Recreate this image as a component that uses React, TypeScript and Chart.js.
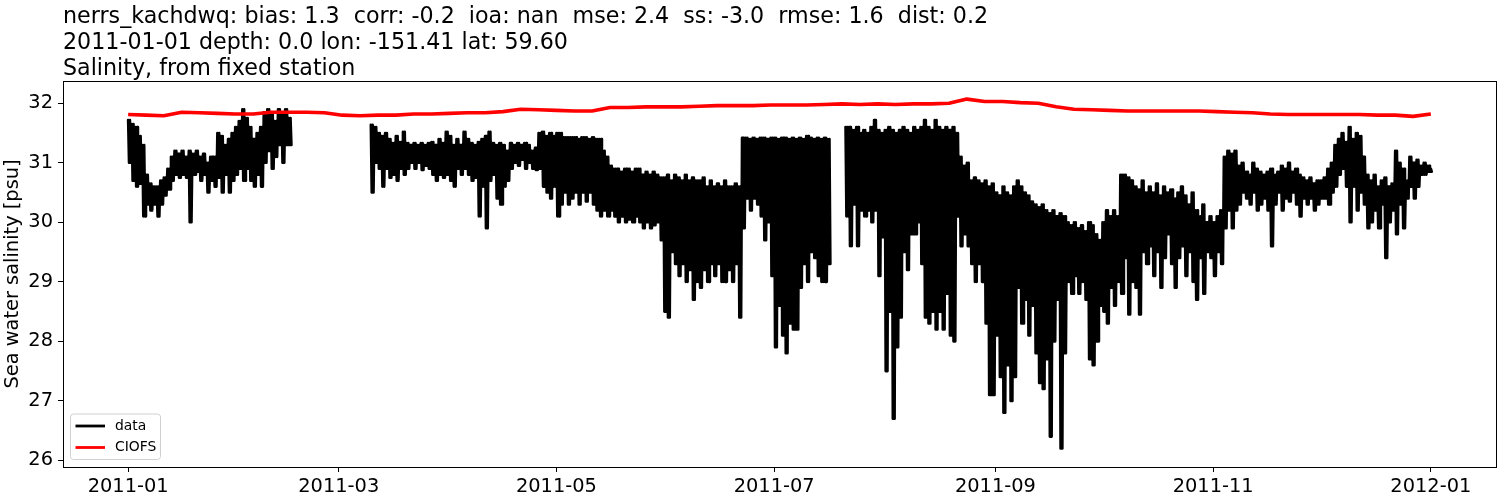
import React, { useEffect, useRef } from "react";
import { Chart, registerables } from "chart.js";

Chart.register(...registerables);

const titleLines = [
  "nerrs_kachdwq: bias: 1.3  corr: -0.2  ioa: nan  mse: 2.4  ss: -3.0  rmse: 1.6  dist: 0.2",
  "2011-01-01 depth: 0.0 lon: -151.41 lat: 59.60",
  "Salinity, from fixed station",
];
const yAxisTitle = "Sea water salinity [psu]";
const legendLabels = ["data", "CIOFS"];

// x positions are days since 2011-01-01
const tickDays = [0, 59, 120, 181, 243, 304, 365];
const tickLabels = ["2011-01", "2011-03", "2011-05", "2011-07", "2011-09", "2011-11", "2012-01"];
const yTicks = [26, 27, 28, 29, 30, 31, 32];

// observed salinity: daily upper / lower envelope (tidal range), day 0..365
const dataHigh = [
  31.72, 31.65, 31.6, 31.45, 31.3, 30.8, 30.65, 30.6, 30.6, 30.7,
  30.75, 30.9, 31.1, 31.2, 31.15, 31.2, 31.1, 31.2, 31.15, 31.2,
  31.1, 31.15, 31.0, 31.1, 31.1, 31.5, 31.45, 31.3, 31.4, 31.5,
  31.6, 31.7, 31.9, 31.75, 31.6, 31.4, 31.5, 31.6, 31.85, 31.9,
  31.85, 31.7, 31.9, 31.8, 31.9, 31.75, null, null, null, null,
  null, null, null, null, null, null, null, null, null, null,
  null, null, null, null, null, null, null, null, 31.64, 31.6,
  31.5, 31.45, 31.5, 31.4, 31.33, 31.45, 31.35, 31.52, 31.33, 31.3,
  31.33, 31.3, 31.33, 31.3, 31.33, 31.35, 31.3, 31.4, 31.33, 31.52,
  31.45, 31.3, 31.4, 31.3, 31.52, 31.4, 31.33, 31.3, 31.35, 31.4,
  31.45, 31.52, 31.33, 31.3, 31.33, 31.3, 31.2, 31.33, 31.3, 31.33,
  31.3, 31.33, 31.3, 31.2, 31.25, 31.5, 31.52, 31.45, 31.5, 31.45,
  31.5, 31.5, 31.43, 31.43, 31.43, 31.43, 31.4, 31.43, 31.43, 31.4,
  31.43, 31.4, 31.4, 31.2, 31.1, 30.95, 30.9, 30.9, 30.85, 30.9,
  30.9, 30.85, 30.9, 30.9, 30.8, 30.85, 30.8, 30.85, 30.8, 30.75,
  30.75, 30.8, 30.7, 30.8, 30.75, 30.7, 30.8, 30.7, 30.75, 30.7,
  30.7, 30.75, 30.6, 30.7, 30.6, 30.65, 30.6, 30.7, 30.6, 30.6,
  30.65, 30.6, 31.42, 31.42, 31.4, 31.42, 31.4, 31.42, 31.42, 31.4,
  31.42, 31.42, 31.4, 31.42, 31.42, 31.4, 31.42, 31.4, 31.42, 31.4,
  31.45, 31.42, 31.4, 31.42, 31.4, 31.42, 31.4, null, null, null,
  null, 31.6, 31.6, 31.55, 31.6, 31.5, 31.55, 31.5, 31.6, 31.72,
  31.55, 31.5, 31.55, 31.6, 31.55, 31.5, 31.55, 31.6, 31.55, 31.5,
  31.6, 31.55, 31.6, 31.72, 31.6, 31.55, 31.72, 31.6, 31.55, 31.6,
  31.55, 31.6, 31.5, 31.1, 30.95, 31.0, 30.7, 30.75, 30.7, 30.65,
  30.7, 30.6, 30.65, 30.5, 30.45, 30.6, 30.5, 30.45, 30.6, 30.7,
  30.6, 30.5, 30.45, 30.35, 30.3, 30.25, 30.3, 30.2, 30.15, 30.2,
  30.1, 30.15, 30.1, 30.0, 29.95, 30.0, 29.9, 29.95, 29.85, 30.0,
  29.95, 29.8, 29.7, 30.0, 30.2, 30.1, 30.2, 30.1, 30.8, 30.8,
  30.75, 30.7, 30.6, 30.55, 30.7, 30.5, 30.6, 30.5, 30.65, 30.45,
  30.6, 30.5, 30.55, 30.4, 30.5, 30.6, 30.45, 30.3, 30.5, 30.2,
  30.1, 30.3, 30.0, 30.1, 30.0, 30.1, 30.2, 31.1, 31.2, 31.15,
  31.2, 30.95, 31.0, 30.85, 30.8, 31.0, 30.9, 30.85, 30.8, 30.85,
  30.9, 30.8, 30.85, 30.95, 30.9, 31.0, 30.85, 30.9, 30.8, 30.75,
  30.7, 30.75, 30.65, 30.7, 30.7, 30.75, 30.9, 31.0, 31.3, 31.4,
  31.5, 31.35, 31.6, 31.4, 31.5, 31.45, 31.1, 30.8, 30.7, 30.8,
  30.6, 30.7, 30.75, 30.6, 30.65, 31.2, 31.0, 30.9, 30.7, 31.1,
  31.0, 31.05, 30.95, 31.0, 30.95, 30.9,
];
const dataLow = [
  31.0, 30.7, 30.6, 30.65, 30.1, 30.3, 30.2, 30.3, 30.1, 30.3,
  30.45, 30.55, 30.7, 30.8, 30.75, 30.8, 30.75, 30.0, 30.8, 30.85,
  30.7, 30.8, 30.5, 30.7, 30.6, 30.75, 30.5, 30.8, 30.5, 30.7,
  30.8, 30.9, 30.7, 30.9, 30.7, 30.6, 30.8, 30.6, 31.0, 31.2,
  30.9, 31.1, 31.3, 31.0, 31.3, 31.3, null, null, null, null,
  null, null, null, null, null, null, null, null, null, null,
  null, null, null, null, null, null, null, null, 30.5, 31.0,
  30.9, 30.6, 30.9, 30.75, 30.8, 30.7, 30.9, 30.8, 30.9, 31.0,
  30.9, 31.0, 30.88, 30.95, 30.9, 30.8, 30.7, 30.8, 30.75, 30.8,
  30.7, 30.6, 30.9, 30.8, 30.9, 30.8, 30.7, 30.75, 30.1, 30.6,
  29.9, 30.7, 30.8, 30.4, 30.3, 30.6, 30.7, 30.9, 31.0, 30.95,
  31.05, 30.9, 31.0, 30.9, 30.88, 30.9, 30.6, 30.5, 30.4, 30.6,
  30.1, 30.3, 30.5, 30.3, 30.4, 30.5, 30.3, 30.5, 30.35, 30.5,
  30.3, 30.2, 30.1, 30.2, 30.1, 30.2, 30.1, 30.0, 30.1, 30.0,
  30.05, 30.0, 30.1, 30.0, 29.9, 30.0, 29.9, 29.95, 30.0, 29.7,
  28.5, 28.4, 29.5, 29.3, 29.1, 29.3, 29.0, 29.2, 28.7, 29.0,
  28.9, 29.2, 29.0, 29.3, 29.1, 29.3, 29.0, 29.0, 29.2, 29.0,
  29.3, 28.4, 29.9, 30.4, 30.2, 30.4, 30.3, 30.1, 29.7, 30.0,
  29.1, 27.9, 28.6, 28.1, 27.8, 28.3, 28.2, 28.2, 28.9, 29.3,
  29.0, 29.5, 29.4, 29.1, 29.0, 29.0, 29.3, null, null, null,
  null, 30.1, 29.6, 30.3, 29.6, 30.2, 30.1, 30.2, 30.0, 30.2,
  29.1, 29.75, 27.5, 28.5, 26.7, 27.9, 28.4, 29.5, 29.2, 29.8,
  29.8, 30.0, 29.3, 28.4, 28.3, 28.5, 28.2, 28.5, 28.2, 28.8,
  28.1, 28.0, 30.1, 29.6, 29.8, 29.6, 29.3, 29.0, 29.3, 29.0,
  28.3, 27.1, 27.1, 28.1, 27.4, 26.8, 27.6, 27.0, 27.4, 28.9,
  28.3, 28.7, 28.1, 28.6, 27.8, 27.3, 27.2, 27.7, 26.4, 28.0,
  28.7, 26.2, 27.8, 29.0, 28.8, 29.1, 28.8, 29.0, 28.7, 27.7,
  27.6, 28.0, 28.6, 28.5, 28.3, 28.9, 28.6, 29.0, 28.8, 29.4,
  28.45, 29.0, 28.9, 28.45, 29.5, 29.3, 29.6, 29.1, 29.5, 28.9,
  29.4, 29.8, 29.3, 28.9, 29.4, 29.6, 29.1, 29.5, 29.0, 28.7,
  29.4, 28.8, 29.5, 29.4, 29.1, 29.5, 29.3, 29.9, 30.2, 29.9,
  30.2, 30.3, 30.5, 30.4, 30.3, 30.5, 30.2, 30.3, 30.4, 30.2,
  29.6, 30.3, 30.5, 30.2, 30.4, 30.35, 30.5, 30.3, 30.1, 30.4,
  30.3, 30.4, 30.2, 30.3, 30.4, 30.4, 30.3, 30.5, 30.6, 30.8,
  30.9, 30.6, 30.0, 30.6, 30.2, 30.5, 30.3, 29.9, 30.0, 30.2,
  29.9, 30.3, 29.4, 30.0, 30.2, 29.8, 30.3, 29.9, 30.4, 30.6,
  30.4, 30.6, 30.8, 30.8, 30.85, 30.85,
];

// CIOFS model salinity, every 5 days (day 0, 5, ..., 365)
const modelValues = [
  31.81, 31.80, 31.79, 31.85, 31.84, 31.83, 31.82, 31.82, 31.85, 31.85,
  31.85, 31.84, 31.80, 31.79, 31.80, 31.80, 31.82, 31.82, 31.83, 31.84,
  31.84, 31.86, 31.90, 31.89, 31.88, 31.87, 31.87, 31.93, 31.93, 31.94,
  31.94, 31.94, 31.95, 31.96, 31.96, 31.96, 31.97, 31.97, 31.97, 31.98,
  31.99, 31.98, 31.99, 31.98, 31.99, 31.99, 32.00, 32.07, 32.03, 32.03,
  32.01, 32.00, 31.94, 31.90, 31.89, 31.88, 31.87, 31.87, 31.87, 31.87,
  31.87, 31.86, 31.85, 31.84, 31.82, 31.81, 31.81, 31.81, 31.81, 31.81,
  31.80, 31.80, 31.78, 31.82,
];
const modelStepDays = 5;

const FONT = '"DejaVu Sans", "Liberation Sans", sans-serif';

export default function App() {
  const canvasRef = useRef<HTMLCanvasElement | null>(null);

  useEffect(() => {
    document.body.style.margin = "0";
    const canvas = canvasRef.current;
    if (!canvas) return;

    // two tidal cycles per day between the day's high and low readings
    const obsPoints: { x: number; y: number | null }[] = [];
    dataHigh.forEach((hi, d) => {
      const lo = dataLow[d];
      if (hi === null || lo === null) {
        obsPoints.push({ x: d, y: null });
      } else {
        obsPoints.push({ x: d, y: hi });
        obsPoints.push({ x: d + 0.25, y: lo });
        if (d < dataHigh.length - 1) {
          obsPoints.push({ x: d + 0.5, y: hi });
          obsPoints.push({ x: d + 0.75, y: lo });
        }
      }
    });
    const modelPoints = modelValues.map((v, i) => ({ x: i * modelStepDays, y: v }));

    const overlay = {
      id: "overlay",
      afterDraw(chart: any) {
        const ctx = chart.ctx as CanvasRenderingContext2D;
        const a = chart.chartArea;
        ctx.save();
        // frame
        ctx.strokeStyle = "#000";
        ctx.lineWidth = 1;
        ctx.strokeRect(Math.round(a.left) + 0.5, Math.round(a.top) + 0.5,
          Math.round(a.right - a.left), Math.round(a.bottom - a.top));
        // titles
        ctx.fillStyle = "#000";
        ctx.font = `22.2px ${FONT}`;
        ctx.textAlign = "left";
        ctx.textBaseline = "alphabetic";
        const baselines = [22.5, 48.5, 74.5];
        titleLines.forEach((t, i) => ctx.fillText(t, a.left, baselines[i]));
        // legend
        const bx = a.left + 7.5, by = a.bottom - 53, bw = 90, bh = 45.5;
        ctx.beginPath();
        if ((ctx as any).roundRect) (ctx as any).roundRect(bx, by, bw, bh, 3);
        else ctx.rect(bx, by, bw, bh);
        ctx.fillStyle = "rgba(255,255,255,0.8)";
        ctx.fill();
        ctx.strokeStyle = "#d0d0d0";
        ctx.lineWidth = 1;
        ctx.stroke();
        const colors = ["#000000", "#ff0000"];
        const rows = [by + 12, by + 33.5];
        ctx.lineWidth = 2.8;
        ctx.font = `13.9px ${FONT}`;
        ctx.textBaseline = "middle";
        legendLabels.forEach((lab, i) => {
          ctx.strokeStyle = colors[i];
          ctx.beginPath();
          ctx.moveTo(bx + 5, rows[i]);
          ctx.lineTo(bx + 34.5, rows[i]);
          ctx.stroke();
          ctx.fillStyle = "#000";
          ctx.fillText(lab, bx + 44.5, rows[i]);
        });
        ctx.restore();
      },
    };

    const chart = new Chart(canvas, {
      type: "line",
      data: {
        datasets: [
          {
            label: legendLabels[1],
            data: modelPoints,
            borderColor: "#ff0000",
            borderWidth: 3.6,
            pointRadius: 0,
            tension: 0,
            borderJoinStyle: "round",
          },
          {
            label: legendLabels[0],
            data: obsPoints,
            borderColor: "#000000",
            borderWidth: 2.6,
            pointRadius: 0,
            tension: 0,
            spanGaps: false,
            borderJoinStyle: "round",
            borderCapStyle: "round",
          },
        ],
      },
      options: {
        responsive: false,
        devicePixelRatio: 1,
        animation: false,
        events: [],
        layout: { padding: { top: 81, right: 4, left: 0, bottom: 0 } },
        plugins: {
          legend: { display: false },
          title: { display: false },
          tooltip: { enabled: false },
        },
        scales: {
          x: {
            type: "linear",
            min: -18.25,
            max: 383.25,
            afterFit: (s: any) => { s.height = 33; },
            afterBuildTicks: (s: any) => { s.ticks = tickDays.map((v) => ({ value: v })); },
            grid: { display: true, drawOnChartArea: false, drawTicks: true, tickLength: 5, color: "#000" },
            border: { display: false },
            ticks: {
              color: "#000",
              font: { family: FONT, size: 19.4 },
              padding: 3,
              maxRotation: 0,
              autoSkip: false,
              callback: (v: any) => {
                const i = tickDays.indexOf(Number(v));
                return i >= 0 ? tickLabels[i] : "";
              },
            },
          },
          y: {
            type: "linear",
            min: 25.889,
            max: 32.374,
            afterFit: (s: any) => { s.width = 63; },
            afterBuildTicks: (s: any) => { s.ticks = yTicks.map((v) => ({ value: v })); },
            grid: { display: true, drawOnChartArea: false, drawTicks: true, tickLength: 5, color: "#000" },
            border: { display: false },
            ticks: {
              color: "#000",
              font: { family: FONT, size: 19.4 },
              padding: 5,
              autoSkip: false,
              callback: (v: any) => String(v),
            },
            title: {
              display: true,
              text: yAxisTitle,
              color: "#000",
              font: { family: FONT, size: 19.4 },
              padding: { top: 1, bottom: 0 },
            },
          },
        },
      },
      plugins: [overlay],
    });

    return () => chart.destroy();
  }, []);

  return (
    <div style={{ position: "absolute", left: 0, top: 0, width: 1500, height: 500, background: "#fff" }}>
      <canvas ref={canvasRef} width={1500} height={500} style={{ display: "block" }} />
    </div>
  );
}
